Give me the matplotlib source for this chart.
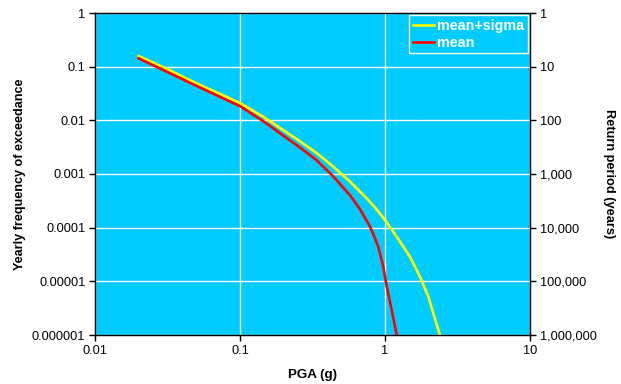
import matplotlib
matplotlib.use("Agg")
import matplotlib.pyplot as plt
from matplotlib.ticker import FixedLocator, NullLocator

plt.rcParams['font.family'] = ['Liberation Sans', 'DejaVu Sans']

pga_sigma = [0.02, 0.03, 0.05, 0.1, 0.145, 0.246, 0.338, 0.44, 0.574,
             0.748, 0.86, 1.0, 1.204, 1.486, 1.743, 1.99, 2.39]
freq_sigma = [0.158, 0.096, 0.049, 0.021, 0.0116, 0.00449, 0.00245, 0.00137, 0.00072,
              0.000352, 0.000232, 0.000139, 6.79e-5, 2.88e-5, 1.22e-5, 5.18e-6, 1e-6]
pga_mean = [0.02, 0.03, 0.05, 0.1, 0.145, 0.189, 0.26, 0.338, 0.418, 0.44,
            0.574, 0.673, 0.789, 0.853, 0.899, 0.973, 1.028, 1.112, 1.204]
freq_mean = [0.143, 0.085, 0.044, 0.0184, 0.0096, 0.00574, 0.0031, 0.0018, 0.00103, 0.0009,
             0.0004, 0.00022, 0.000104, 6.34e-5, 4.42e-5, 1.87e-5, 7.95e-6, 2.92e-6, 1e-6]

x_ticks = [0.01, 0.1, 1, 10]
x_labels = ['0.01', '0.1', '1', '10']
y_ticks = [1, 0.1, 0.01, 0.001, 0.0001, 0.00001, 0.000001]
y_labels = ['1', '0.1', '0.01', '0.001', '0.0001', '0.00001', '0.000001']
rp_labels = ['1', '10', '100', '1,000', '10,000', '100,000', '1,000,000']

fig = plt.figure(figsize=(6.21, 3.84), dpi=100)
ax = fig.add_axes([95/621, 49/384, 435/621, 322/384])
ax.set_facecolor('#00CCFF')
ax.set_xscale('log')
ax.set_yscale('log')
ax.set_xlim(0.01, 10)
ax.set_ylim(1e-6, 1)

ax.plot(pga_sigma, freq_sigma, color='#FFFF00', lw=1.9, label='mean+sigma', zorder=3,
        solid_joinstyle='round')
ax.plot(pga_mean, freq_mean, color='#FF0000', lw=1.9, label='mean', zorder=4,
        solid_joinstyle='round')

ax.xaxis.set_major_locator(FixedLocator(x_ticks))
ax.xaxis.set_minor_locator(NullLocator())
ax.set_xticklabels(x_labels)
ax.yaxis.set_major_locator(FixedLocator(y_ticks))
ax.yaxis.set_minor_locator(NullLocator())
ax.set_yticklabels(y_labels)
ax.grid(True, color='white', lw=1.0)
ax.set_axisbelow(True)
ax.tick_params(direction='out', length=4, width=1, labelsize=9.2, colors='black', pad=3)
for s in ax.spines.values():
    s.set_color('#222222')
    s.set_linewidth(1.0)

ax.set_xlabel('PGA (g)', fontsize=9.6, fontweight='bold', labelpad=9)
ax.set_ylabel('Yearly frequency of exceedance', fontsize=9.1, fontweight='bold', labelpad=4)

ax2 = ax.twinx()
ax2.set_yscale('log')
ax2.set_ylim(1e-6, 1)
ax2.yaxis.set_major_locator(FixedLocator(y_ticks))
ax2.yaxis.set_minor_locator(NullLocator())
ax2.set_yticklabels(rp_labels)
ax2.tick_params(direction='out', length=4, width=1, labelsize=9.2, pad=3)
ax2.set_ylabel('Return period (years)', fontsize=9.2, fontweight='bold', rotation=-90, labelpad=13)

leg = ax.legend(loc='upper right', frameon=True, fancybox=False,
                handlelength=1.5, handletextpad=0.2, borderpad=0.25, labelspacing=0.2,
                borderaxespad=0.15, prop={'weight': 'bold', 'size': 10.3})
leg.get_frame().set_facecolor('#00CCFF')
leg.get_frame().set_edgecolor('white')
leg.get_frame().set_alpha(1)
for t in leg.get_texts():
    t.set_color('white')

fig.savefig('out.png', dpi=100)
